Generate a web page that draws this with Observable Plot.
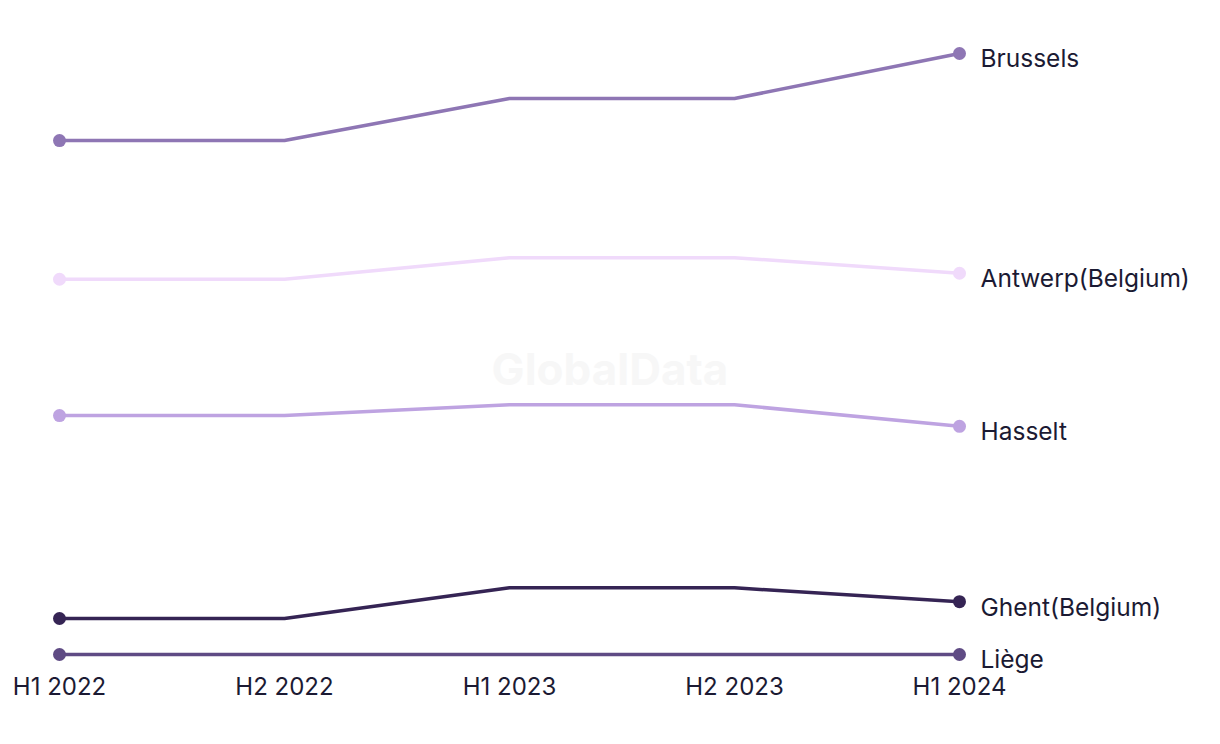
<!DOCTYPE html>
<html>
<head>
<meta charset="utf-8">
<script src="https://cdn.jsdelivr.net/npm/d3@7"></script>
<script src="https://cdn.jsdelivr.net/npm/@observablehq/plot@0.6"></script>
<style>
  html, body { margin: 0; padding: 0; background: #fff; }
  #chart { position: relative; width: 1220px; height: 744px; }
  #wm { position: absolute; left: 0; width: 1220px; top: 342px; text-align: center;
        font: 700 44px Inter, sans-serif; color: #f7f7f7; pointer-events: none; }
</style>
</head>
<body>
<div id="chart"><div id="wm">GlobalData</div></div>
<script>
const periods = ["H1 2022", "H2 2022", "H1 2023", "H2 2023", "H1 2024"];
const cities = ["Brussels", "Antwerp(Belgium)", "Hasselt", "Ghent(Belgium)", "Liège"];
const colors = ["#8e76b4", "#f0dafb", "#bea3e1", "#352454", "#5f4b84"];
const brussels = [93.3, 93.3, 100.3, 100.3, 107.8];
const antwerp  = [70.2, 70.2, 73.8, 73.8, 71.2];
const hasselt  = [47.5, 47.5, 49.3, 49.3, 45.7];
const ghent    = [13.7, 13.7, 18.8, 18.8, 16.5];
const liege    = [7.7, 7.7, 7.7, 7.7, 7.7];
const series = [brussels, antwerp, hasselt, ghent, liege];

const data = [];
cities.forEach((c, i) => series[i].forEach((v, j) => data.push({city: c, period: periods[j], value: v})));
const ends = data.filter(d => d.period === periods[0] || d.period === periods[periods.length - 1]);
const last = data.filter(d => d.period === periods[periods.length - 1]);

const plot = Plot.plot({
  width: 1220,
  height: 744,
  marginTop: 53,
  marginBottom: 90,
  marginLeft: 57,
  marginRight: 260,
  style: {fontFamily: "Inter, sans-serif", background: "transparent", overflow: "visible"},
  x: {type: "point", domain: periods, padding: 0, label: null},
  y: {domain: [7.7, 107.8], axis: null},
  color: {domain: cities, range: colors},
  marks: [
    Plot.axisX({tickSize: 0, tickPadding: 23, fontSize: 24, fill: "#1b1a33", label: null}),
    Plot.line(data, {x: "period", y: "value", z: "city", stroke: "city", strokeWidth: 3.5}),
    Plot.dot(ends, {x: "period", y: "value", fill: "city", r: 6.5}),
    Plot.text(last, {x: "period", y: "value", text: "city", textAnchor: "start", dx: 21, dy: 6,
      fontSize: 24.5, fill: "#1b1a33"})
  ]
});
plot.style.position = "absolute";
plot.style.left = "0";
plot.style.top = "0";
document.getElementById("chart").appendChild(plot);
</script>
</body>
</html>
